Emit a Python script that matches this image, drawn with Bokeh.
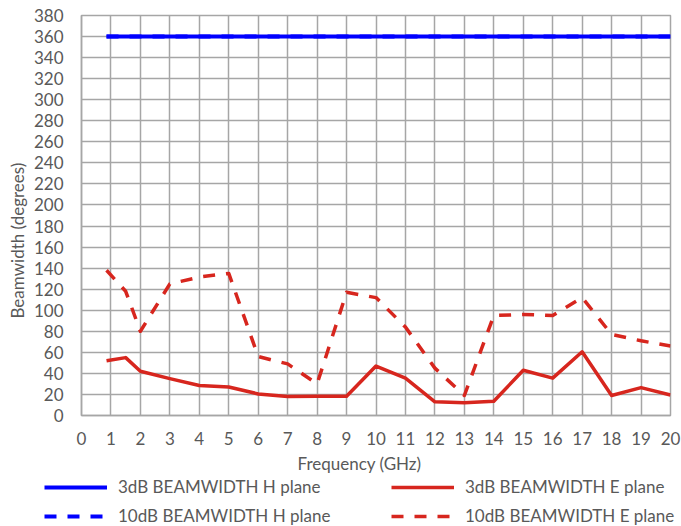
from bokeh.plotting import figure
from bokeh.models import Legend, LegendItem, FixedTicker, ColumnDataSource, Title
from bokeh.embed import file_html
from bokeh.resources import INLINE

# ---- data ----
freq = [0.85, 1.5, 2, 3, 4, 5, 6, 7, 8, 9, 10, 11, 12, 13, 14, 15, 16, 17, 18, 19, 20]
bw3_h = [360] * 21
bw10_h = [360] * 21
bw3_e = [52, 55, 42, 35, 28.5, 27, 20.5, 18, 18.3, 18.3, 47, 35.5, 13, 12, 13.5, 43, 35.5, 60.5, 19, 26.5, 19.5]
bw10_e = [138, 118, 80, 125, 131.5, 135, 56, 49, 30, 117, 112, 84, 45, 19, 95, 96, 95, 112, 77, 71, 66]

x_ticks = list(range(0, 21))
y_ticks = list(range(0, 381, 20))
x_title = "Frequency (GHz)"
y_title = "Beamwidth (degrees)"
series_names = ["3dB BEAMWIDTH H plane", "3dB BEAMWIDTH E plane",
                "10dB BEAMWIDTH H plane", "10dB BEAMWIDTH E plane"]

FONT = "Lato"
FS = "17px"
TXT = "#595959"
GRID = "#a6a6a6"
RED = "#d7261e"
BLUE = "#0000ff"
DASH = "12 11"

p = figure(frame_width=589, frame_height=400, x_range=(0, 20), y_range=(0, 380),
           output_backend="svg", toolbar_location=None,
           min_border_left=81, min_border_right=11, min_border_top=15, min_border_bottom=62)

p.background_fill_color = "white"
p.border_fill_color = "white"
p.outline_line_color = GRID
p.outline_line_width = 1.5

for ax in (p.xaxis[0], p.yaxis[0]):
    ax.major_tick_line_color = None
    ax.minor_tick_line_color = None
    ax.major_tick_out = 0
    ax.major_tick_in = 0
    ax.axis_line_color = GRID
    ax.axis_line_width = 1.5
    ax.major_label_text_font = FONT
    ax.major_label_text_font_size = FS
    ax.major_label_text_color = TXT

p.xaxis[0].ticker = FixedTicker(ticks=x_ticks)
p.yaxis[0].ticker = FixedTicker(ticks=y_ticks)
p.xaxis[0].major_label_standoff = 16
p.yaxis[0].major_label_standoff = 18

p.xgrid.ticker = FixedTicker(ticks=x_ticks)
p.ygrid.ticker = FixedTicker(ticks=y_ticks)
for g in (p.xgrid[0], p.ygrid[0]):
    g.grid_line_color = GRID
    g.grid_line_width = 1.5

# axis titles placed as in the reference (not centred on the frame)
xt = Title(text=x_title, align="left", offset=216, standoff=6,
           text_font=FONT, text_font_size=FS, text_font_style="normal", text_color=TXT)
p.add_layout(xt, "below")
yt = Title(text=y_title, align="left", offset=97, standoff=5,
           text_font=FONT, text_font_size=FS, text_font_style="normal", text_color=TXT)
p.add_layout(yt, "left")

src = ColumnDataSource(dict(x=freq, h3=bw3_h, h10=bw10_h, e3=bw3_e, e10=bw10_e))

styles = [dict(line_color=BLUE, line_width=4),
          dict(line_color=RED, line_width=3.5, line_join="round"),
          dict(line_color=BLUE, line_width=4, line_dash=DASH),
          dict(line_color=RED, line_width=3.5, line_dash=DASH, line_join="round")]
cols = ["h3", "e3", "h10", "e10"]
for c, st in zip(cols, styles):
    p.line("x", c, source=src, **st)

# ---- legend strip below the chart (its own root, so it is not frame-aligned) ----
lf = figure(width=681, height=49, x_range=(100, 101), y_range=(1000, 1001),
            output_backend="svg", toolbar_location=None,
            x_axis_location=None, y_axis_location=None, min_border=0)
lf.outline_line_color = None
lf.grid.visible = False
lf.background_fill_color = "white"
lf.border_fill_color = "white"

# same series (outside this strip's view) so that the legend keys carry their styles
rends = [lf.line("x", c, source=src, **st) for c, st in zip(cols, styles)]


def row_legend(idx, loc):
    return Legend(items=[LegendItem(label=series_names[i], renderers=[rends[i]]) for i in idx],
                  orientation="horizontal", location=loc,
                  glyph_width=63, glyph_height=20, label_height=20, label_width=215,
                  label_standoff=11, spacing=58, padding=0, margin=0,
                  border_line_color=None, background_fill_alpha=0,
                  label_text_font=FONT, label_text_font_size=FS, label_text_color=TXT)


lf.add_layout(row_legend([0, 1], (44, 29)), "center")
lf.add_layout(row_legend([2, 3], (44, 0)), "center")

open("out.html", "w").write(file_html([p, lf], INLINE))
